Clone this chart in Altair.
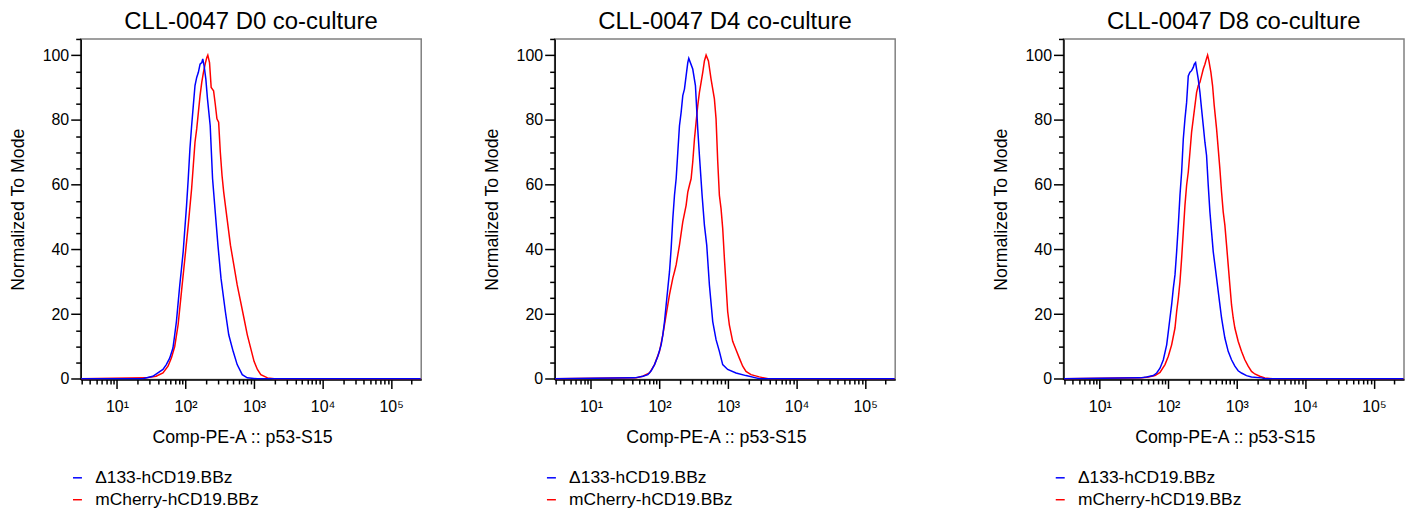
import altair as alt
import pandas as pd

SERIES = ["Δ133-hCD19.BBz", "mCherry-hCD19.BBz"]
COLORS = ["#0000ff", "#ff0000"]
TITLES = ["CLL-0047 D0 co-culture", "CLL-0047 D4 co-culture", "CLL-0047 D8 co-culture"]
X_TITLE = "Comp-PE-A :: p53-S15"
Y_TITLE = "Normalized To Mode"

# ---- D0 ----
d0_blue_x = [3, 23.7, 33.3, 46.8, 52.4, 58.7, 65.5, 69.5, 73.6, 77.9, 82.4, 87.3, 92.4, 97.8, 103.5, 109.5,
             115.9, 122.7, 129.8, 137.4, 145.5, 153.9, 162.9, 172.4, 178.3, 186.7, 197.8, 209, 229, 248, 271,
             297, 329, 381, 427, 495, 567, 672, 796, 1120, 270000]
d0_blue_y = [0, 0, 0.8, 2.9, 4.4, 6.4, 9.5, 13.6, 17.7, 23.4, 29.0, 34.1, 39.3, 46.5, 53.6, 61.8, 71.1, 78.2,
             84.4, 90.6, 93.1, 94.7, 97.2, 97.7, 98.8, 96.7, 92.6, 86.5, 78.2, 61.8, 51.6, 41.3, 31.1, 20.8,
             13.6, 8.5, 4.4, 1.3, 0.3, 0, 0]
d0_red_x = [3, 26.5, 37.2, 46.8, 55.5, 62.1, 69.5, 77.9, 87.3, 97.8, 109.5, 122.7, 129.8, 137.4, 145.5, 153.9,
            162.9, 172.4, 182.5, 193.2, 204.4, 211.3, 223.9, 236.7, 256.4, 271.3, 287.2, 304.0, 321.7, 340.5,
            360.4, 403.6, 452.1, 506.3, 567.1, 635.1, 711.3, 796.6, 892.3, 999.4, 1119, 1254, 1573, 1975, 270000]
d0_red_y = [0, 0.3, 0.8, 1.8, 3.9, 6.4, 10.0, 16.7, 27.0, 37.2, 47.5, 58.8, 65.9, 73.1, 77.2, 82.3, 87.5, 91.6,
            94.7, 97.2, 99.3, 100, 97.7, 90.0, 89.0, 84.9, 80.3, 79.3, 70.0, 62.9, 57.7, 49.5, 41.3, 35.2, 29.0,
            23.9, 18.8, 13.6, 9.5, 5.4, 2.9, 1.3, 0.3, 0, 0]

# ---- D4 ----
d4_blue_x = [3, 43.3, 57.1, 67.6, 75.6, 84.6, 94.6, 105.7, 111.8, 118.3, 125.1, 132.3, 139.9, 147.9, 156.4,
             165.4, 174.9, 184.9, 195.5, 206.8, 218.6, 231.2, 244.5, 258.6, 267.4, 305.5, 334.4, 361.4, 382.4,
             418.3, 452.2, 488.9, 534.7, 598.1, 668.6, 747.6, 835.9, 988.2, 1308, 1829, 2558, 2900, 270000]
d4_blue_y = [0, 0.3, 0.8, 1.3, 2.5, 4.4, 7.0, 10.5, 13.6, 17.7, 22.9, 28.0, 33.1, 40.3, 49.5, 56.7, 61.8, 70.0,
             78.2, 82.3, 87.5, 89.5, 93.6, 97.7, 99.0, 95.7, 90.6, 77.2, 69.0, 56.7, 47.5, 41.3, 29.0, 17.7,
             12.1, 8.5, 4.4, 2.9, 1.8, 1.0, 0.3, 0, 0]
d4_red_x = [3, 45.7, 57.1, 71.4, 84.6, 100, 111.8, 125.1, 139.9, 156.4, 165.4, 174.9, 195.5, 218.6, 244.5,
            258.6, 273.4, 289.2, 305.5, 323.6, 342.0, 361.4, 382.4, 404.4, 427.6, 452.2, 478.6, 517.6, 565.3,
            632.4, 668.6, 707.9, 747.6, 790.7, 835.9, 885.1, 935.4, 988.2, 1045, 1169, 1308, 1463, 1637, 1829,
            2163, 2858, 3850, 270000]
d4_red_y = [0, 0.3, 0.8, 1.8, 4.4, 8.5, 13.6, 19.8, 26.0, 31.1, 33.1, 35.2, 41.3, 48.5, 53.6, 57.7, 59.8, 61.8,
            67.0, 74.1, 79.3, 84.4, 88.5, 91.6, 94.7, 98.2, 100, 98.2, 92.6, 86.5, 80.3, 67.0, 56.7, 52.6, 46.5,
            37.2, 29.0, 20.8, 16.7, 11.6, 9.0, 6.4, 3.9, 2.3, 1.3, 0.6, 0, 0]

# ---- D8 ----
d8_blue_x = [3, 38.6, 48.3, 60.5, 67.6, 75.6, 84.6, 94.6, 100, 105.7, 111.8, 118.3, 125.1, 132.3, 139.9, 147.9,
             156.4, 165.4, 174.9, 184.9, 195.5, 206.8, 218.6, 231.2, 239.4, 250.0, 258.6, 273.4, 289.2, 305.5,
             323.6, 342.0, 361.4, 382.4, 404.4, 427.6, 452.2, 478.6, 506.0, 534.7, 565.3, 598.1, 632.4, 668.6,
             747.6, 835.9, 935.4, 1045, 1169, 1384, 1637, 2286, 2600, 270000]
d8_blue_y = [0, 0.3, 0.6, 1.0, 1.8, 3.3, 5.9, 10.5, 14.6, 18.8, 22.9, 28.0, 32.1, 39.3, 47.5, 56.7, 63.9, 74.1,
             80.3, 85.4, 93.6, 94.7, 95.2, 96.2, 97.2, 97.7, 95.7, 92.6, 88.5, 83.4, 78.2, 73.1, 69.0, 59.8,
             51.6, 45.4, 39.3, 35.2, 31.1, 27.0, 22.9, 18.8, 15.7, 12.6, 8.5, 5.9, 3.9, 2.5, 1.8, 1.0, 0.6, 0.3,
             0, 0]
d8_red_x = [3, 40.9, 51.2, 64.0, 75.6, 89.4, 100, 111.8, 125.1, 132.3, 139.9, 147.9, 156.4, 165.4, 174.9, 184.9,
            195.5, 206.8, 218.6, 231.2, 244.5, 258.6, 273.4, 289.2, 305.5, 323.6, 342.0, 361.4, 374.1, 391.1,
            418.3, 442.2, 467.7, 506.0, 534.7, 565.3, 598.1, 632.4, 668.6, 707.9, 747.6, 790.7, 835.9, 885.1,
            935.4, 1045, 1169, 1308, 1463, 1637, 1829, 2163, 2558, 3300, 270000]
d8_red_y = [0, 0.3, 0.6, 1.0, 2.0, 4.4, 7.0, 10.5, 15.7, 20.8, 24.9, 30.0, 37.2, 45.4, 53.6, 59.8, 63.9, 70.0,
            76.2, 80.3, 84.4, 88.5, 90.6, 91.6, 93.6, 95.7, 97.2, 99.0, 100, 98.2, 94.7, 90.6, 84.4, 77.2, 71.1,
            64.9, 57.7, 51.6, 47.5, 41.3, 35.2, 29.0, 22.9, 18.8, 15.7, 11.6, 8.5, 5.9, 3.9, 2.3, 1.5, 0.8, 0.3,
            0, 0]

X_TICKS = [3, 4, 5, 6, 7, 8, 9] + [m * 10 ** e for e in range(1, 5) for m in range(1, 10)] + [100000, 200000]
Y_TICKS = list(range(0, 106, 5))

FONT = "Liberation Sans"


def panel(title, bx, by, rx, ry):
    # red rows first so the blue trace is drawn on top
    df = pd.DataFrame({
        "x": rx + bx,
        "y": ry + by,
        "series": [SERIES[1]] * len(rx) + [SERIES[0]] * len(bx),
    })
    x_axis = alt.Axis(
        values=X_TICKS,
        labelExpr=("datum.value == 10 ? '10¹' : datum.value == 100 ? '10²' : datum.value == 1000 ? '10³' : "
                   "datum.value == 10000 ? '10⁴' : datum.value == 100000 ? '10⁵' : ''"),
        tickSize={"condition": {"test": "indexof([10,100,1000,10000,100000], datum.value) >= 0", "value": 9},
                  "value": 4.5},
        labelOverlap=False, labelFlush=False, grid=False,
        labelPadding=10, titlePadding=14, titleX=162,
    )
    y_axis = alt.Axis(
        values=Y_TICKS,
        labelExpr="datum.value % 20 == 0 ? datum.label : ''",
        tickSize={"condition": {"test": "datum.value % 20 == 0", "value": 10}, "value": 5},
        labelOverlap=False, labelFlush=False, grid=False,
        labelPadding=2, titlePadding=15,
    )
    return alt.Chart(df).mark_line(strokeWidth=1.5, clip=True).encode(
        x=alt.X("x:Q", title=X_TITLE, axis=x_axis,
                scale=alt.Scale(type="log", domain=[2.95, 275000], nice=False)),
        y=alt.Y("y:Q", title=Y_TITLE, axis=y_axis,
                scale=alt.Scale(domain=[-0.2, 105], nice=False, zero=False)),
        color=alt.Color("series:N", scale=alt.Scale(domain=SERIES, range=COLORS),
                        legend=alt.Legend(title=None, orient="none", legendX=-12, legendY=432,
                                          symbolType="stroke", symbolSize=81, symbolStrokeWidth=1.5,
                                          labelFontSize=17.5, labelFont=FONT, labelColor="#000",
                                          labelLimit=400, labelOffset=9, rowPadding=3, padding=0)),
    ).properties(
        width=342, height=342,
        title=alt.TitleParams(title, frame="group", anchor="middle", fontSize=24, font=FONT,
                              fontWeight="normal", color="#000", offset=-3),
    )


p1 = panel(TITLES[0], d0_blue_x, d0_blue_y, d0_red_x, d0_red_y)
p2 = panel(TITLES[1], d4_blue_x, d4_blue_y, d4_red_x, d4_red_y)
p3 = panel(TITLES[2], d8_blue_x, d8_blue_y, d8_red_x, d8_red_y)

inner = alt.hconcat(p1, p2, spacing=60).resolve_legend(color="independent").resolve_scale(color="independent")
chart = alt.hconcat(inner, p3, spacing=95).resolve_legend(color="independent").resolve_scale(color="independent")

chart = chart.properties(padding=0, background="white").configure(font=FONT).configure_view(
    stroke="#808080", strokeWidth=1.5
).configure_axis(
    domainColor="#000", domainWidth=1.5, tickColor="#000", tickWidth=1.5,
    labelFontSize=16, labelColor="#000", labelFont=FONT,
    titleFontSize=17.8, titleFont=FONT, titleFontWeight="normal", titleColor="#000",
)

chart.save("out.html", embed_options={"renderer": "svg", "actions": False})
